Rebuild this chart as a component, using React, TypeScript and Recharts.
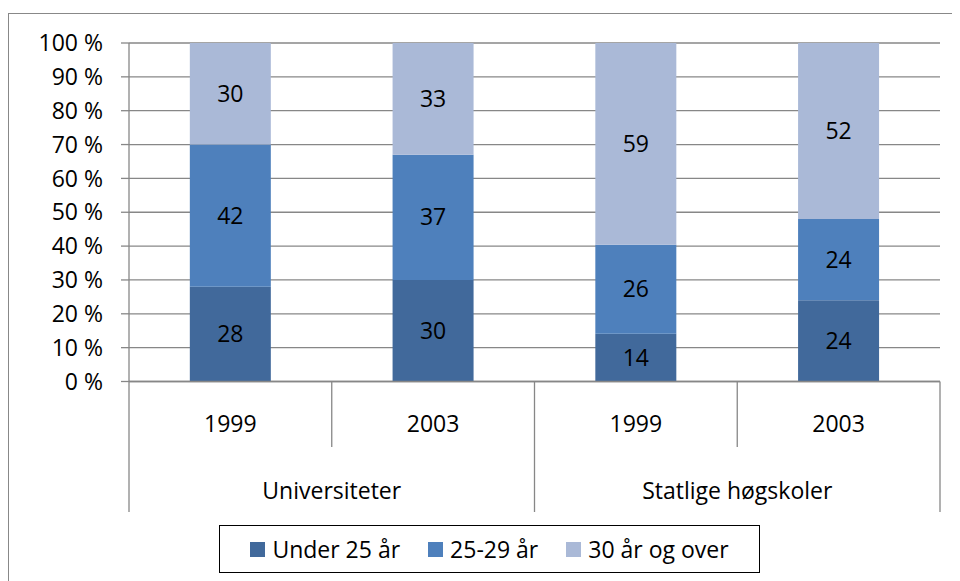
import { BarChart, Bar, XAxis, YAxis, CartesianGrid, Legend, LabelList } from "recharts";

const categories = ["1999", "2003", "1999", "2003"];
const groups = ["Universiteter", "Universiteter", "Statlige høgskoler", "Statlige høgskoler"];
const under25 = [28, 30, 14, 24];
const age25to29 = [42, 37, 26, 24];
const over30 = [30, 33, 59, 52];
const yTicks = [0, 0.1, 0.2, 0.3, 0.4, 0.5, 0.6, 0.7, 0.8, 0.9, 1];

const series = [
  { key: "under25", name: "Under 25 år", color: "#41699B" },
  { key: "age25to29", name: "25-29 år", color: "#4E80BC" },
  { key: "over30", name: "30 år og over", color: "#AAB9D7" },
];

const data = categories.map((year, i) => ({
  year,
  group: groups[i],
  under25: under25[i],
  age25to29: age25to29[i],
  over30: over30[i],
}));

const FONT = "'Open Sans', 'Liberation Sans', sans-serif";
const GRID = "#878787";
const FS = 23;

const YearTick = (props: any) => {
  const { x, y, payload } = props;
  const half = payload.offset || 101.4;
  const idx = payload.index;
  const startsGroup = idx === 0 || groups[idx - 1] !== groups[idx];
  const endsAll = idx === categories.length - 1;
  return (
    <g>
      <line x1={x - half} y1={y} x2={x - half} y2={y + (startsGroup ? 130.5 : 65.5)} stroke={GRID} strokeWidth={1.3} />
      {endsAll && <line x1={x + half} y1={y} x2={x + half} y2={y + 130.5} stroke={GRID} strokeWidth={1.3} />}
      <text x={x} y={y + 41} textAnchor="middle" dominantBaseline="central" fontSize={FS} fill="#000">
        {payload.value}
      </text>
    </g>
  );
};

const GroupTick = (props: any) => {
  const { x, y, payload } = props;
  const idx = payload.index;
  if (idx > 0 && groups[idx - 1] === groups[idx]) return null;
  const size = groups.filter((g) => g === groups[idx]).length;
  const half = payload.offset || 101.4;
  return (
    <text x={x + half * (size - 1)} y={y + 43.5} textAnchor="middle" dominantBaseline="central" fontSize={FS} fill="#000">
      {payload.value}
    </text>
  );
};

const LegendBox = () => (
  <div
    style={{
      border: "1.5px solid #000",
      height: 48,
      display: "flex",
      alignItems: "center",
      justifyContent: "center",
      gap: 28,
      fontFamily: FONT,
      fontSize: FS,
      color: "#000",
      boxSizing: "border-box",
    }}
  >
    {series.map((s) => (
      <div key={s.key} style={{ display: "flex", alignItems: "center" }}>
        <span style={{ display: "inline-block", width: 15, height: 15, background: s.color, marginRight: 7 }} />
        <span>{s.name}</span>
      </div>
    ))}
  </div>
);

export default function App() {
  return (
    <div style={{ position: "relative", width: 952, height: 573, overflow: "hidden", fontFamily: FONT }}>
      <div
        style={{
          position: "absolute",
          left: 0,
          top: 5,
          width: 1200,
          height: 1200,
          border: "1.5px solid #888",
        }}
      />
      <BarChart
        width={952}
        height={573}
        data={data}
        stackOffset="expand"
        barCategoryGap="30%"
        margin={{ top: 35, right: 20, bottom: 69.5, left: 0 }}
        style={{ position: "absolute", left: 0, top: 0, fontFamily: FONT }}
      >
        <CartesianGrid vertical={false} stroke={GRID} strokeWidth={1.3} />
        <XAxis
          dataKey="year"
          height={65}
          axisLine={{ stroke: GRID, strokeWidth: 1.3 }}
          tickLine={false}
          tickSize={0}
          tickMargin={0}
          interval={0}
          tick={<YearTick />}
        />
        <XAxis
          dataKey="group"
          xAxisId="group"
          height={65}
          axisLine={false}
          tickLine={false}
          tickSize={0}
          tickMargin={0}
          interval={0}
          tick={<GroupTick />}
        />
        <YAxis
          width={121}
          ticks={yTicks}
          domain={[0, 1]}
          interval={0}
          tickSize={8}
          tickMargin={18}
          axisLine={{ stroke: GRID, strokeWidth: 1.3 }}
          tickLine={{ stroke: GRID, strokeWidth: 1.3 }}
          tick={{ fill: "#000", fontSize: FS }}
          tickFormatter={(v: number) => `${Math.round(v * 100)} %`}
        />
        {series.map((s) => (
          <Bar key={s.key} dataKey={s.key} name={s.name} stackId="a" fill={s.color} isAnimationActive={false}>
            <LabelList dataKey={s.key} position="center" fill="#000" fontSize={FS} />
          </Bar>
        ))}
        <Legend
          layout="horizontal"
          verticalAlign="middle"
          align="center"
          content={<LegendBox />}
          wrapperStyle={{ left: 211, top: 517, width: 541, height: 48 }}
        />
      </BarChart>
    </div>
  );
}
